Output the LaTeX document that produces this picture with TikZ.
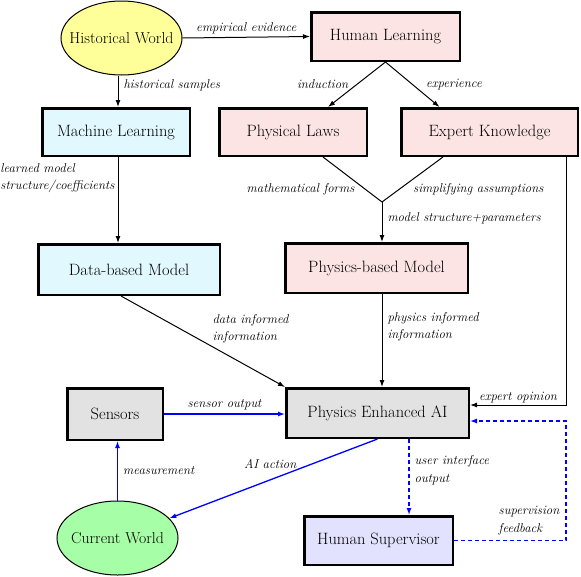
\documentclass[tikz,border=0pt]{standalone}
\usepackage{fontspec}
\usetikzlibrary{shapes.geometric,arrows.meta}
\definecolor{ylw}{HTML}{FFFF99}
\definecolor{pnk}{HTML}{FCE4E4}
\definecolor{cyn}{HTML}{E2F8FF}
\definecolor{gry}{HTML}{E2E2E2}
\definecolor{lav}{HTML}{E2E2FF}
\definecolor{grn}{HTML}{A6FFA6}
\begin{document}
\begin{tikzpicture}[x=1pt,y=-1pt,
  box/.style={draw, line width=2.5pt, inner sep=0pt, font=\fontsize{16.4}{19}\selectfont},
  world/.style={ellipse, draw, line width=1pt, minimum width=121pt, minimum height=74pt, inner sep=0pt, font=\fontsize{15.8}{19}\selectfont},
  arr/.style={-{Latex[length=7pt,width=5pt]}, line width=1pt},
  barr/.style={arr, blue, line width=1.3pt},
  darr/.style={barr, dash pattern=on 4pt off 3pt},
  lbl/.style={font=\fontsize{12.8}{17.5}\selectfont\itshape, inner sep=0pt, align=left},
]
\useasboundingbox (0,0) rectangle (581,576);

\node[world, fill=ylw] (hw) at (121.5,38) {\makebox[0pt]{Historical World}};
\node[box, fill=pnk, minimum width=148.5pt, minimum height=48.5pt] (hl) at (385.5,36.5) {Human Learning};
\node[box, fill=cyn, minimum width=147.5pt, minimum height=47.5pt] (ml) at (116,132) {Machine Learning};
\node[box, fill=pnk, minimum width=147.5pt, minimum height=47.5pt] (pl) at (293,132) {Physical Laws};
\node[box, fill=pnk, minimum width=176.5pt, minimum height=47.5pt] (ek) at (489.5,132) {Expert Knowledge};
\node[box, fill=cyn, minimum width=181.5pt, minimum height=50.5pt] (dbm) at (129,269.5) {Data-based Model};
\node[box, fill=pnk, minimum width=182.5pt, minimum height=49.5pt] (pbm) at (376.5,268) {Physics-based Model};
\node[box, fill=gry, minimum width=95.5pt, minimum height=51.5pt] (sen) at (115,414) {Sensors};
\node[box, fill=gry, minimum width=182.5pt, minimum height=49.5pt] (peai) at (377.5,413) {Physics Enhanced AI};
\node[world, fill=grn] (cw) at (117.5,538) {\makebox[0pt]{Current World}};
\node[box, fill=lav, minimum width=148.5pt, minimum height=48.5pt] (hs) at (378.5,540.5) {Human Supervisor};

\coordinate (merge) at (382,202);
\coordinate (fb) at (566,421);

% black connectors
\draw[arr] (hw.east) -- node[lbl, above=3pt] {empirical evidence} (hl.west);
\draw[arr] ([xshift=-3.5pt]hw.south) -- node[lbl, pos=0.3, anchor=west, xshift=5pt] {historical samples} ([xshift=2pt]ml.north);
\draw[arr] (hl.south) -- node[lbl, anchor=east, xshift=-8pt] {induction} ([xshift=35pt]pl.north);
\draw[arr] (hl.south) -- node[lbl, anchor=west, xshift=13pt] {experience} ([xshift=-50pt]ek.north);
\draw[line width=1pt] ([xshift=30pt]pl.south) -- node[lbl, pos=0.71, anchor=east, xshift=-10pt] {mathematical forms} (merge);
\draw[line width=1pt] ([xshift=-46.5pt]ek.south) -- node[lbl, pos=0.71, anchor=west, xshift=13pt] {simplifying assumptions} (merge);
\draw[arr] (merge) -- node[lbl, pos=0.4, anchor=west, xshift=5pt] {model structure+parameters} (merge |- pbm.north);
\draw[arr] ([xshift=2pt]ml.south) -- node[lbl, pos=0.244, anchor=east, xshift=-3pt] {learned model\\structure/coefficients} ([xshift=-11pt]dbm.north);
\draw[arr] ([xshift=-8pt]dbm.south) -- node[lbl, pos=0.36, anchor=west, xshift=32pt] {data informed\\information} (peai.north west);
\draw[arr] (pbm.south -| merge) -- node[lbl, pos=0.35, anchor=west, xshift=5pt] {physics informed\\information} (peai.north -| merge);
\draw[arr] ([xshift=76.5pt]ek.south) |- node[lbl, pos=0.75, above=1.5pt] {expert opinion} ([yshift=8pt]peai.east);

% blue connectors
\draw[barr] (sen.east) -- node[lbl, above=3pt, black] {sensor output} (sen.east -| peai.west);
\draw[barr] (cw.north) -- node[lbl, anchor=west, xshift=5pt, black] {measurement} (cw.north |- sen.south);
\draw[barr] (peai.south) -- node[lbl, pos=0.31, anchor=east, xshift=-16pt, black] {AI action} (cw);
\draw[darr] ([xshift=31.5pt]peai.south) -- node[lbl, pos=0.41, anchor=west, xshift=5pt, black] {user interface\\output} ([xshift=31.5pt]peai.south |- hs.north);
\draw[darr] (hs.east) -| node[lbl, pos=0.584, anchor=east, xshift=-6pt, black] {supervision\\feedback} (fb) -- ([yshift=-8pt]peai.east);
\end{tikzpicture}
\end{document}
